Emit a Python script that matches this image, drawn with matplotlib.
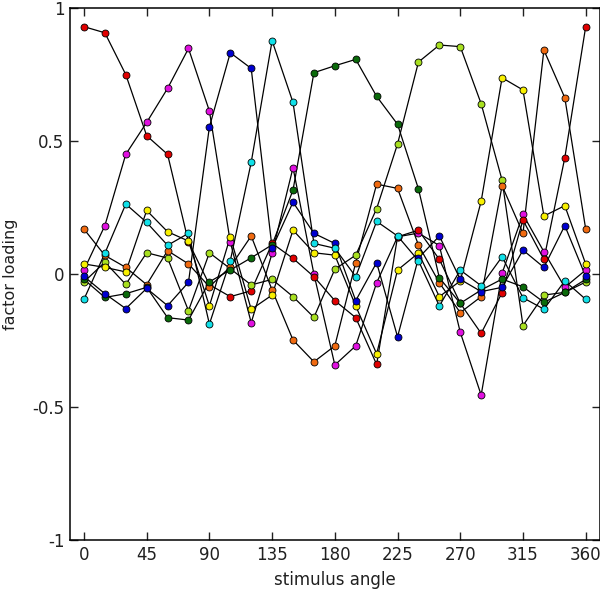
import matplotlib
matplotlib.use("Agg")
import matplotlib.pyplot as plt

# stimulus angles, 0..360 in 15 degree steps
angles = list(range(0, 361, 15))

red = [0.93, 0.907, 0.75, 0.52, 0.45, 0.12, -0.04, -0.085, -0.063, 0.115, 0.059, -0.01, -0.10,
       -0.164, -0.34, 0.14, 0.165, 0.055, -0.11, -0.223, -0.07, 0.203, 0.055, 0.437, 0.93]
orange = [0.169, 0.07, 0.025, -0.04, 0.088, 0.038, -0.048, 0.027, 0.143, -0.06, -0.248, -0.33, -0.27,
          0.043, 0.338, 0.322, 0.109, -0.033, -0.145, -0.085, 0.332, 0.153, 0.842, 0.663, 0.169]
yellow = [0.038, 0.025, 0.008, 0.239, 0.159, 0.124, -0.12, 0.14, -0.133, -0.079, 0.165, 0.08, 0.071,
          -0.12, -0.30, 0.015, 0.079, -0.085, -0.026, 0.274, 0.738, 0.692, 0.218, 0.257, 0.038]
lime = [-0.03, 0.045, -0.039, 0.08, 0.06, -0.138, 0.08, 0.02, -0.041, -0.02, -0.085, -0.163, 0.018,
        0.071, 0.246, 0.489, 0.797, 0.861, 0.855, 0.64, 0.353, -0.194, -0.079, -0.069, -0.03]
dgreen = [-0.02, -0.088, -0.074, -0.05, -0.164, -0.173, -0.029, 0.015, 0.061, 0.11, 0.316, 0.757, 0.783,
          0.807, 0.668, 0.563, 0.32, -0.014, -0.11, -0.06, -0.019, -0.048, -0.106, -0.069, -0.02]
cyan = [-0.095, 0.078, 0.263, 0.194, 0.108, 0.153, -0.188, 0.05, 0.42, 0.877, 0.645, 0.115, 0.097,
        -0.01, 0.198, 0.143, 0.05, -0.12, 0.015, -0.044, 0.065, -0.089, -0.132, -0.026, -0.095]
blue = [-0.009, -0.074, -0.13, -0.054, -0.119, -0.031, 0.553, 0.832, 0.773, 0.097, 0.27, 0.153, 0.115,
        -0.10, 0.043, -0.236, 0.06, 0.143, -0.02, -0.066, -0.05, 0.09, 0.025, 0.182, -0.009]
magenta = [0.015, 0.182, 0.45, 0.57, 0.698, 0.848, 0.613, 0.12, -0.183, 0.078, 0.40, 0.0, -0.342,
           -0.27, -0.033, 0.14, 0.154, 0.107, -0.219, -0.455, 0.003, 0.224, 0.084, -0.05, 0.015]

series = [
    (magenta, "#e010e0"),
    (red, "#e00000"),
    (lime, "#a8e020"),
    (orange, "#f06a10"),
    (yellow, "#f8f000"),
    (dgreen, "#0a6a0a"),
    (blue, "#0000d0"),
    (cyan, "#10e0e8"),
]

xticks = [0, 45, 90, 135, 180, 225, 270, 315, 360]
yticks = [-1, -0.5, 0, 0.5, 1]
yticklabels = ["-1", "-0.5", "0", "0.5", "1"]

fig = plt.figure(figsize=(6, 5.92), dpi=100)
ax = fig.add_axes([0.1167, 0.0878, 0.8827, 0.8986])

for vals, col in series:
    ax.plot(angles, vals, color="black", lw=0.9, zorder=2)
for vals, col in series:
    ax.plot(angles, vals, linestyle="none", marker="o", markersize=5,
            markerfacecolor=col, markeredgecolor="black", markeredgewidth=0.6, zorder=3)

ax.set_xlim(-10, 370)
ax.set_ylim(-1, 1)
ax.set_xticks(xticks)
ax.set_xticklabels([str(t) for t in xticks])
ax.set_yticks(yticks)
ax.set_yticklabels(yticklabels)
ax.tick_params(direction="in", top=True, right=True, length=6, width=1,
               labelsize=12, pad=4, colors="#202020")
for s in ax.spines.values():
    s.set_linewidth(1.1)

ax.set_xlabel("stimulus angle", fontsize=12, color="#202020")
ax.set_ylabel("factor loading", fontsize=11.5, color="#202020")
ax.xaxis.set_label_coords(0.5, -0.058)
ax.yaxis.set_label_coords(-0.098, 0.5)

fig.savefig("out.png", dpi=100)
